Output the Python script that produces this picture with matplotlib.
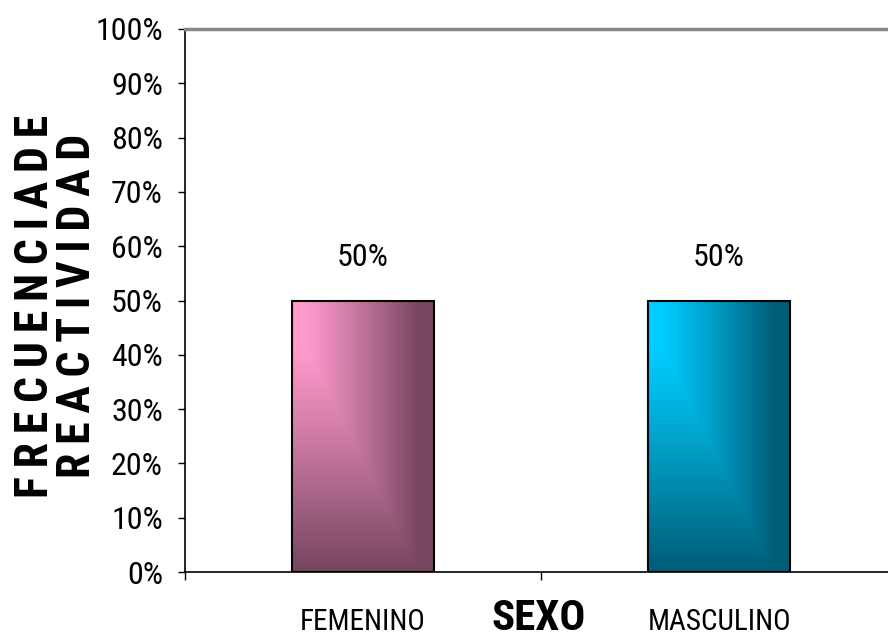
import numpy as np
import matplotlib
matplotlib.use("Agg")
import matplotlib.pyplot as plt
from matplotlib import font_manager as fm
from matplotlib.ticker import FixedLocator, FuncFormatter

# ---- data ----
categories = ["FEMENINO", "MASCULINO"]
values = [50, 50]                      # percent
value_labels = ["50%", "50%"]
y_ticks = list(range(0, 101, 10))
x_title = "SEXO"
SP = "\u2009"
y_title_lines = [SP.join(list("FRECUENCIA") + list("DE")),
                 SP.join("REACTIVIDAD")]

light_colors = [(1.00, 0.60, 0.80), (0.00, 0.80, 1.00)]
dark_colors = [(0.47, 0.28, 0.38), (0.00, 0.37, 0.47)]

# ---- pick a narrow font that is installed ----
COND = {"condensed", "semi-condensed", "extra-condensed", "ultra-condensed"}
entries = fm.fontManager.ttflist
candidates = [("Liberation Sans Narrow", False), ("Roboto Condensed", False),
              ("Noto Sans Condensed", False), ("Open Sans Condensed", False),
              ("Noto Sans", True), ("DejaVu Sans", True),
              ("Liberation Sans", False)]
FAMILY, STRETCH = "DejaVu Sans", "normal"
for name, need_cond in candidates:
    ok = [f for f in entries if f.name == name and
          (not need_cond or str(f.stretch) in COND)]
    if ok:
        FAMILY = name
        STRETCH = "condensed" if need_cond else "normal"
        break

FONT = [FAMILY, "DejaVu Sans"]
plt.rcParams["font.family"] = FONT
plt.rcParams["font.stretch"] = STRETCH

fig = plt.figure(figsize=(8.88, 6.39), dpi=100)
ax = fig.add_axes([185 / 888, 67 / 639, 712 / 888, 543 / 639])

x = np.arange(len(categories)) + 0.5
bar_width = 0.40
bars = ax.bar(x, values, width=bar_width, facecolor="none",
              edgecolor="black", linewidth=1.5, zorder=3)

# gradient fill (light top-left corner, darker to the right and bottom)
ny, nx = 200, 120
u = np.linspace(0, 1, nx)[None, :]
v = np.linspace(0, 1, ny)[:, None]
su = np.clip((u - 0.10) / 0.78, 0, 1)
sv = np.clip((v - 0.18) / 0.80, 0, 1)
t = np.maximum(su, sv) ** 1.1
for b, lc, dc in zip(bars, light_colors, dark_colors):
    lc = np.array(lc)
    dc = np.array(dc)
    img = lc[None, None, :] + (dc - lc)[None, None, :] * t[:, :, None]
    x0 = b.get_x()
    x1 = x0 + b.get_width()
    h = b.get_height()
    im = ax.imshow(img, extent=(x0, x1, 0, h), origin="upper",
                   aspect="auto", zorder=2, interpolation="bilinear")
    im.set_clip_path(b)

for xi, val, lab in zip(x, values, value_labels):
    ax.annotate(lab, (xi, val), xytext=(0, 31), textcoords="offset points",
                ha="center", va="center", fontsize=23, family=FONT,
                fontstretch=STRETCH)

ax.set_xlim(0, len(categories))
ax.set_ylim(0, 100)

# y axis
ax.yaxis.set_major_locator(FixedLocator(y_ticks))
ax.yaxis.set_major_formatter(FuncFormatter(lambda val, pos: f"{int(val)}%"))
ax.tick_params(axis="y", direction="out", length=5, width=1, pad=11,
               labelsize=23, colors="black")

# x axis: category labels at centres, ticks at boundaries
ax.set_xticks(x)
ax.set_xticklabels(categories)
ax.tick_params(axis="x", which="major", length=0, pad=26, labelsize=21)
ax.set_xticks(np.arange(len(categories) + 1), minor=True)
ax.tick_params(axis="x", which="minor", direction="out", length=6, width=1)
for lab in ax.get_xticklabels() + ax.get_yticklabels():
    lab.set_fontstretch(STRETCH)

ax.spines["left"].set_linewidth(1.2)
ax.spines["bottom"].set_linewidth(1.2)
ax.spines["top"].set_color("#888888")
ax.spines["top"].set_linewidth(2.5)
ax.spines["right"].set_visible(False)

# titles
fig.text(539 / 888, 1 - 618 / 639, x_title, ha="center", va="center",
         fontsize=31, fontweight="bold", family=FONT, fontstretch=STRETCH)
fig.text(56 / 888, 1 - 306 / 639, "\n".join(y_title_lines), rotation=90,
         ha="center", va="center", multialignment="center",
         linespacing=0.95, fontsize=33, fontweight="bold",
         family=FONT, fontstretch=STRETCH)

fig.savefig("out.png", dpi=100)
